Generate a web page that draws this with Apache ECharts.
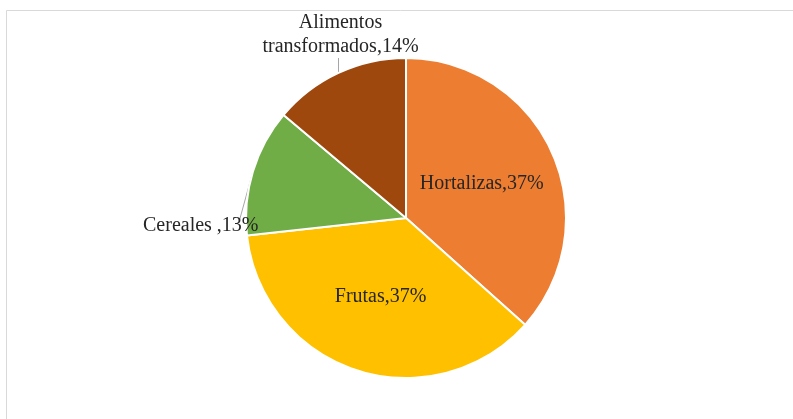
<!DOCTYPE html>
<html>
<head>
<meta charset="utf-8">
<script src="https://cdn.jsdelivr.net/npm/echarts@6/dist/echarts.min.js"></script>
<style>
  html, body { margin: 0; padding: 0; background: #fff; }
  #chart { width: 793px; height: 419px; }
</style>
</head>
<body>
<div id="chart"></div>
<script>
// data (clockwise from 12 o'clock)
const categories = ['Hortalizas', 'Frutas', 'Cereales ', 'Alimentos\ntransformados']
const values = [37, 37, 13, 14]
const colors = ['#ED7D31', '#FFC000', '#70AD47', '#9E480E']
const insideLabel = [true, true, false, false]

const CENTER = [406, 218]
const RADIUS = 160

const chart = echarts.init(document.getElementById('chart'))

const total = values.reduce((a, b) => a + b, 0)

// point on the rim at the middle of slice i (clockwise from top)
function rimPoint(i) {
  const before = values.slice(0, i).reduce((a, b) => a + b, 0)
  const mid = (before + values[i] / 2) / total * Math.PI * 2
  return [CENTER[0] + RADIUS * Math.sin(mid), CENTER[1] - RADIUS * Math.cos(mid)]
}

const data = categories.map((name, i) => ({
  name,
  value: values[i],
  itemStyle: { color: colors[i] },
  label: { position: insideLabel[i] ? 'inside' : 'outside' },
  labelLine: { show: !insideLabel[i] }
}))

chart.setOption({
  backgroundColor: '#fff',
  animation: false,
  // light frame round the plot area
  graphic: [{
    type: 'rect',
    shape: { x: 6.5, y: 10.5, width: 820, height: 430 },
    style: { fill: 'none', stroke: '#d9d9d9', lineWidth: 1 },
    silent: true
  }],
  series: [{
    type: 'pie',
    center: CENTER,
    radius: RADIUS,
    startAngle: 90,
    clockwise: true,
    itemStyle: { borderColor: '#fff', borderWidth: 2 },
    label: {
      formatter: '{b},{c}%',
      fontFamily: 'Liberation Serif',
      fontSize: 20,
      lineHeight: 24,
      color: '#262626'
    },
    labelLine: {
      lineStyle: { color: '#a6a6a6', width: 1 }
    },
    labelLayout: (p) => {
      if (p.dataIndex === 3) {
        const s = rimPoint(3)
        return {
          x: s[0] + 2, y: 35, align: 'center', verticalAlign: 'middle',
          labelLinePoints: [s, [s[0], 58], [s[0], 58]]
        }
      }
      if (p.dataIndex === 2) {
        const s = rimPoint(2)
        return {
          x: 143, y: 226, align: 'left', verticalAlign: 'middle',
          labelLinePoints: [s, [239, 222], [239, 222]]
        }
      }
      return {}
    },
    data
  }]
})
</script>
</body>
</html>
